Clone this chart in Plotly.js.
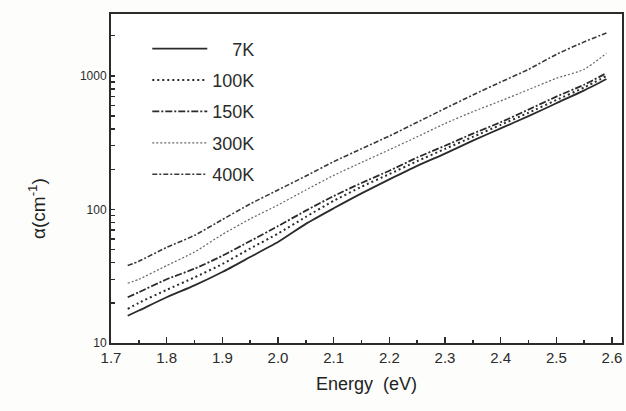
<!DOCTYPE html>
<html>
<head>
<meta charset="utf-8">
<script src="https://cdn.plot.ly/plotly-3.0.1.min.js"></script>
<style>
  html, body { margin: 0; padding: 0; background: #fff; }
  #plot { width: 626px; height: 411px; }
</style>
</head>
<body>
<div id="plot"></div>
<script>
// Photon energy (eV) at which the absorption coefficient was sampled
const energy = [1.73, 1.75, 1.80, 1.85, 1.90, 1.95, 2.00, 2.05, 2.10, 2.15,
                2.20, 2.25, 2.30, 2.35, 2.40, 2.45, 2.50, 2.55, 2.59];

// Absorption coefficient alpha (cm^-1) for each temperature
const alpha7K   = [16, 17.5, 22, 27, 34, 44, 57, 78, 102, 132,
                   168, 212, 262, 328, 405, 500, 625, 780, 950];
const alpha100K = [18, 20, 25, 31, 39, 51, 66, 88, 116, 148,
                   184, 230, 284, 350, 430, 530, 660, 820, 1000];
const alpha150K = [22, 24, 30, 36, 45, 58, 75, 98, 126, 158,
                   195, 245, 300, 370, 450, 560, 700, 860, 1050];
const alpha300K = [28, 30, 38, 48, 65, 85, 108, 140, 180, 225,
                   280, 350, 440, 540, 650, 790, 960, 1120, 1480];
const alpha400K = [38, 41, 52, 64, 84, 110, 140, 178, 228, 285,
                   355, 450, 570, 720, 900, 1120, 1450, 1800, 2100];

const seriesNames = ['\u2007\u20077K', '100K', '150K', '300K', '400K'];

const xTickVals = [1.7, 1.8, 1.9, 2.0, 2.1, 2.2, 2.3, 2.4, 2.5, 2.6];
const yTickVals = [10, 100, 1000];
const yMinorVals = [20, 30, 40, 50, 60, 70, 80, 90,
                    200, 300, 400, 500, 600, 700, 800, 900, 2000];

const ink = '#2b2b2b';

// labelled decades plus unlabelled minor marks on the log axis
const yAllTicks = yTickVals.concat(yMinorVals);
const yAllText = yTickVals.map(String).concat(yMinorVals.map(() => ''));

function curve(y, name, dash, width, color, group) {
  return {
    x: energy, y: y, name: name, type: 'scatter', mode: 'lines',
    legendgroup: group,
    line: { color: color, width: width, dash: dash, shape: 'spline', smoothing: 0.6 }
  };
}

const traces = [
  curve(alpha7K,   seriesNames[0], 'solid', 1.8, ink, 'a'),
  curve(alpha100K, seriesNames[1], '2px,3px', 2.0, ink, 'b'),
  curve(alpha150K, seriesNames[2], '7px,2px,2px,2px', 1.8, ink, 'c'),
  curve(alpha300K, seriesNames[3], '2px,2px', 1.2, '#666', 'd'),
  curve(alpha400K, seriesNames[4], '5px,2px,2px,2px', 1.6, '#3a3a3a', 'e')
];

const layout = {
  width: 626, height: 411,
  margin: { l: 111, r: 4, t: 14, b: 68 },
  paper_bgcolor: '#fdfdfb',
  plot_bgcolor: '#ffffff',
  font: { family: 'Liberation Sans, Arial, sans-serif', color: ink },
  showlegend: true,
  legend: {
    x: 0.071, y: 0.95, xanchor: 'left', yanchor: 'top',
    bgcolor: 'rgba(0,0,0,0)',
    font: { size: 18, color: ink },
    traceorder: 'grouped',
    tracegroupgap: 5,
    itemwidth: 55
  },
  xaxis: {
    range: [1.7, 2.618],
    tickvals: xTickVals,
    tickformat: '.1f',
    ticks: 'inside', ticklen: 6, tickwidth: 1.5, tickcolor: ink,
    minor: { ticks: 'inside', ticklen: 3, dtick: 0.05, tick0: 1.7, tickcolor: ink },
    showline: true, linecolor: ink, linewidth: 2, mirror: true,
    showgrid: false, zeroline: false,
    tickfont: { size: 15, color: ink },
    title: { text: 'Energy  (eV)', font: { size: 18, color: '#222' }, standoff: 12 }
  },
  yaxis: {
    type: 'log',
    range: [1, 3.464],
    tickmode: 'array',
    tickvals: yAllTicks,
    ticktext: yAllText,
    ticks: 'inside', ticklen: 4, tickwidth: 1.4, tickcolor: ink,
    showline: true, linecolor: ink, linewidth: 2, mirror: true,
    showgrid: false, zeroline: false,
    tickfont: { size: 12, color: ink }
  },
  annotations: [{
    text: '\u03b1(cm<sup>-1</sup>)',
    xref: 'paper', yref: 'paper',
    x: -0.145, y: 0.41, xanchor: 'center', yanchor: 'middle',
    textangle: -90, showarrow: false,
    font: { size: 19, color: '#222' }
  }]
};

Plotly.newPlot('plot', traces, layout, { displayModeBar: false, staticPlot: true });
</script>
</body>
</html>
